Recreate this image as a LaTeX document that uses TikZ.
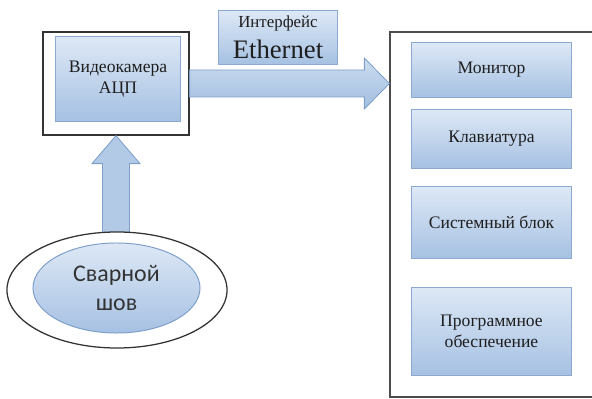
\documentclass[tikz,border=0pt]{standalone}
\usepackage{fontspec}
\setmainfont{Liberation Serif}
\newfontfamily\clb{Carlito}
\usetikzlibrary{positioning,calc,shapes.geometric}
\definecolor{boxtop}{HTML}{DDE8F5}
\definecolor{boxbot}{HTML}{A6C1E3}
\definecolor{boxln}{HTML}{8BA9D1}
\definecolor{arrtop}{HTML}{CBDCEF}
\definecolor{arrbot}{HTML}{A2BEE0}
\definecolor{arrln}{HTML}{7E9FCA}
\definecolor{txt}{HTML}{1E1E1E}
\tikzset{
  blk/.style={draw=boxln, line width=0.7pt, top color=boxtop, bottom color=boxbot,
    inner sep=2pt, align=center, text=txt, font=\fontsize{12.5}{14.5}\selectfont},
  frm/.style={draw=black!80, line width=0.9pt, fill=white},
  barrow/.style={draw=arrln, line width=0.6pt, top color=arrtop, bottom color=arrbot}}
\begin{document}
\begin{tikzpicture}[x=0.025cm, y=-0.025cm]
\useasboundingbox (0,0) rectangle (592,399);
\clip (0,0) rectangle (592,399);
% left part: camera in its frame
\node[frm, minimum width=3.65cm, minimum height=2.575cm] (lbox) at (116,83.5) {};
\node[blk, minimum width=3.1cm, minimum height=2.1cm] (cam) at (118,79) {Видеокамера\\АЦП};
\node[blk, minimum width=2.95cm, minimum height=1.325cm] (eth) at (278,37.5)
  {{\fontsize{12}{13}\selectfont Интерфейс}\\[5pt]{\fontsize{19}{20}\selectfont Ethernet}};
% right part: the computer
\node[frm, draw=black!70, minimum width=5.25cm, minimum height=9.125cm] (rbox) at (495,214.5) {};
\node[blk, minimum width=3.975cm, minimum height=1.35cm] (mon) at (491.5,70) {Монитор};
\node[blk, minimum width=3.975cm, minimum height=1.45cm] (kbd) at (491.5,139) {Клавиатура};
\node[blk, minimum width=3.975cm, minimum height=1.775cm] (sys) at (491.5,222.5) {Системный блок};
\node[blk, minimum width=3.975cm, minimum height=2.175cm] (soft) at (491.5,331.5) {Программное\\обеспечение};
% block arrows
\coordinate (a0) at (lbox.east);
\coordinate (a1) at (rbox.west |- lbox.east);
\path[barrow] ($(a0)+(0,-13.5)$) -- ($(a1)+(-25,-13.5)$) -- ($(a1)+(-25,-25.5)$) -- (a1)
  -- ($(a1)+(-25,25.5)$) -- ($(a1)+(-25,13.5)$) -- ($(a0)+(0,13.5)$) -- cycle;
\coordinate (b0) at (116,236);
\coordinate (b1) at (lbox.south);
\path[barrow, top color=arrbot!60!arrtop, bottom color=arrbot!60!arrtop]
  ($(b0)+(-13.5,0)$) -- ($(b1)+(-13.5,28)$) -- ($(b1)+(-24,28)$) -- (b1)
  -- ($(b1)+(24,28)$) -- ($(b1)+(13.5,28)$) -- ($(b0)+(13.5,0)$) -- cycle;
% weld seam
\node[frm, ellipse, minimum width=5.5cm, minimum height=2.9cm] (ell) at (117,290) {};
\node[blk, ellipse, draw=arrln, minimum width=4.175cm, minimum height=2.25cm, inner sep=0pt,
  font=\clb\fontsize{17}{21}\selectfont, text=black!80] (seam) at (116.5,288) {Сварной\\шов};
\end{tikzpicture}
\end{document}
